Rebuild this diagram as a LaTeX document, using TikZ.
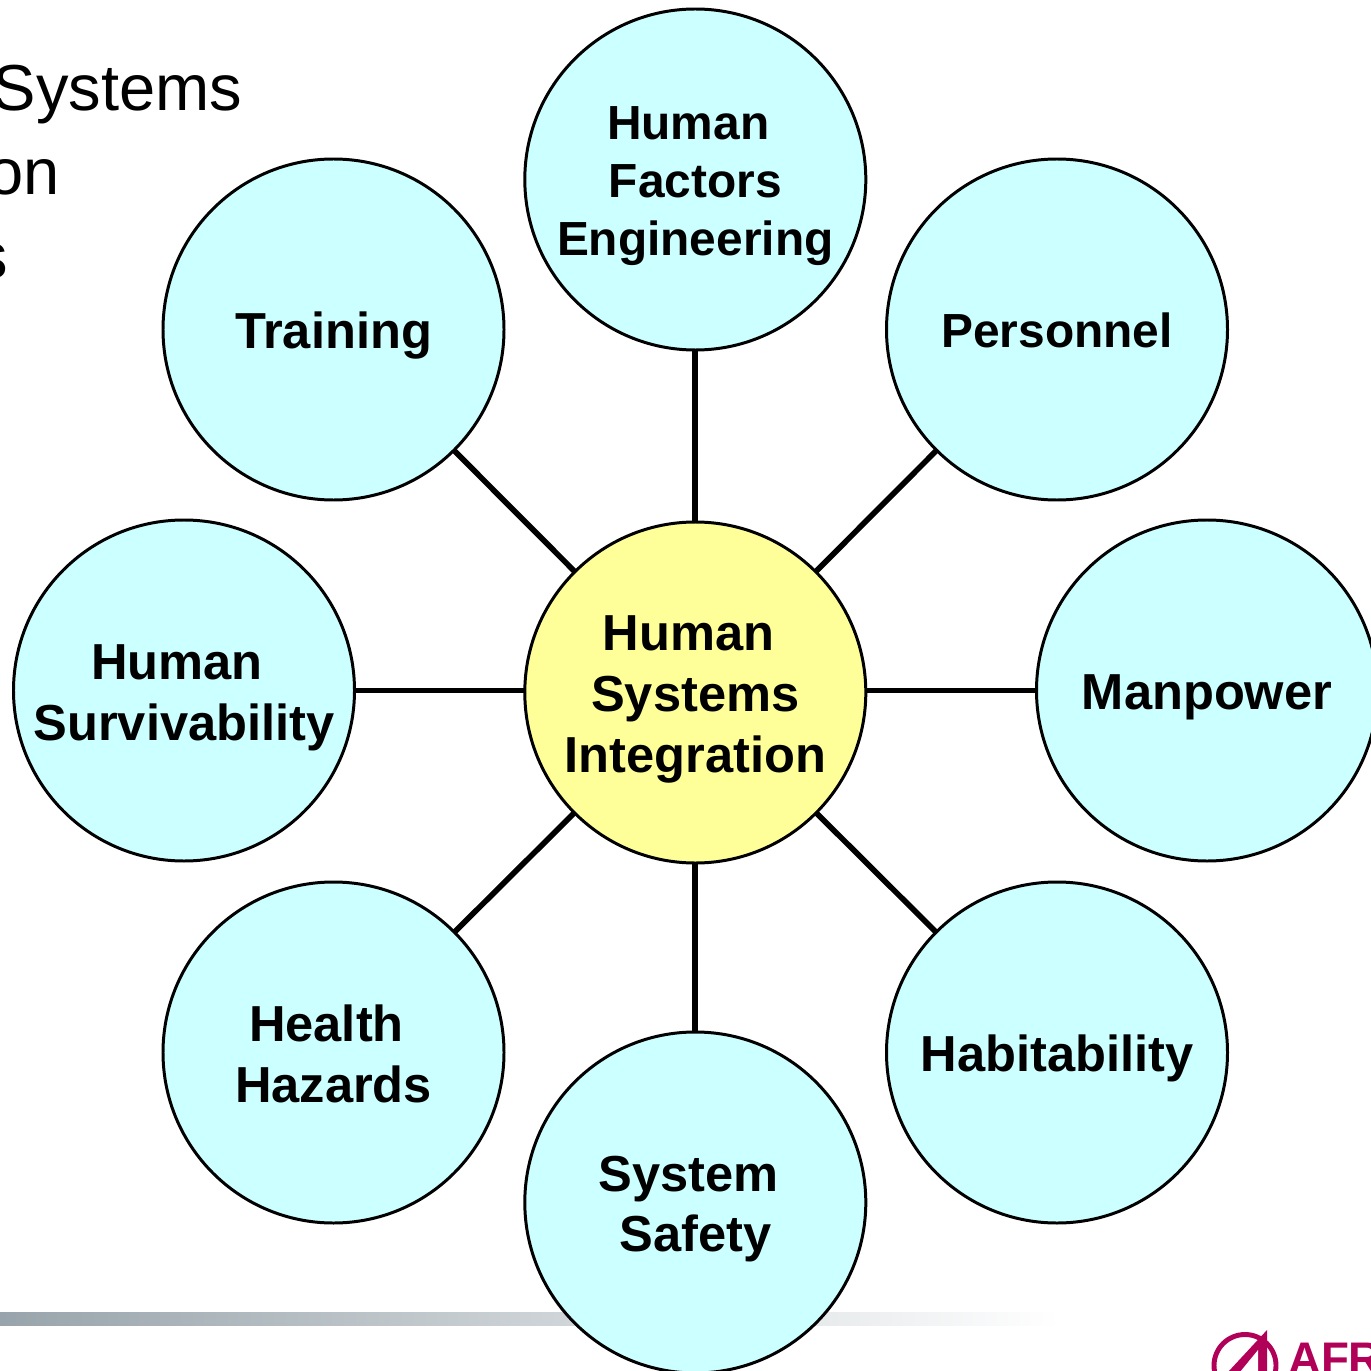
\documentclass[tikz,border=0pt]{standalone}
\usepackage{fontspec}
\setmainfont{Liberation Sans}

\definecolor{paleCyan}{HTML}{CCFFFF}
\definecolor{paleYellow}{HTML}{FFFF99}
\definecolor{barGray}{HTML}{98A4AB}
\definecolor{logoRed}{HTML}{B00058}

\tikzstyle{element}=[circle, draw=black, line width=0.85pt, fill=paleCyan,
                     minimum size=3.41cm, inner sep=0, outer sep=0, align=center,
                     font=\fontsize{14.4}{17.35}\selectfont\bfseries]
\tikzstyle{smaller}=[font=\fontsize{13.62}{16.5}\selectfont\bfseries]
\tikzstyle{heading}=[anchor=base east, inner sep=0, outer sep=0,
                     font=\fontsize{18.5}{22}\selectfont]
\tikzstyle{spoke}=[line width=1.6pt]

\newcommand{\trail}{\hspace*{0.14cm}}
\newcommand{\drop}[1]{\rule{0pt}{#1}}

\begin{document}
\begin{tikzpicture}

\useasboundingbox (0, 0) rectangle (13.71, 13.70);
\clip (0, 0) rectangle (13.71, 13.70);

%%%%%%%%%%%%%%%%%%
%%%%%%%%%%%%%%%%%%
\shade [left color=barGray, right color=white] (0, 0.45) rectangle (10.6, 0.58);

%%%%%%%%%%%%%%%%%%
\node (Systems_Title) at (2.42, 12.59) [heading] {Systems};

\node (on_Title) at (0.60, 11.75) [heading] {on};

\node (s_Title) at (0.08, 10.91) [heading] {s};

%%%%%%%%%%%%%%%%%%
\node (Integration) at (6.953, 6.775) [element, fill=paleYellow] {\drop{14pt}Human\trail\\Systems\\Integration};

%%%%%%%%%%%%%%%%%%
\node (Factors) at (6.953, 11.905) [element, smaller] {\drop{13pt}Human\trail\\Factors\\Engineering};

\node (Personnel) at (10.57, 10.405) [element, smaller] {\drop{10.3pt}Personnel};

\node (Manpower) at (12.07, 6.795) [element] {\drop{14pt}Manpower};

\node (Habitability) at (10.57, 3.175) [element] {\drop{14pt}Habitability};

\node (Safety) at (6.953, 1.675) [element] {\drop{13.8pt}System\trail\\Safety};

\node (Hazards) at (3.335, 3.175) [element] {\drop{11.5pt}Health\trail\\Hazards};

\node (Survivability) at (1.84, 6.795) [element] {\drop{14pt}Human\trail\\Survivability};

\node (Training) at (3.335, 10.405) [element] {\drop{14pt}Training};

%%%%%%%%%%%%%%%%%%%%
%%%%%%%%%%%%%%%%%%%%
\draw [spoke] (Integration) to (Factors);

\draw [spoke] (Integration) to (Personnel);

\draw [spoke] (Manpower.west -| Integration.east) to (Manpower.west);

\draw [spoke] (Integration) to (Habitability);

\draw [spoke] (Integration) to (Safety);

\draw [spoke] (Integration) to (Hazards);

\draw [spoke] (Survivability.east -| Integration.west) to (Survivability.east);

\draw [spoke] (Integration) to (Training);

%%%%%%%%%%%%%%%%%%%%
\draw [logoRed, line width=1.4pt] (12.45, 0.045) circle (0.31);

\fill [logoRed] (12.67, 0.40) -- (12.67, -0.02) -- (12.28, -0.02) -- cycle;

\fill [white] (12.58, 0.20) -- (12.58, -0.02) -- (12.40, -0.02) -- cycle;

\node (AFR_Logo) at (12.88, -0.04) [anchor=base west, inner sep=0, outer sep=0, text=logoRed,
                                    font=\fontsize{13}{15}\selectfont\bfseries] {AFRL};

\end{tikzpicture}
\end{document}
